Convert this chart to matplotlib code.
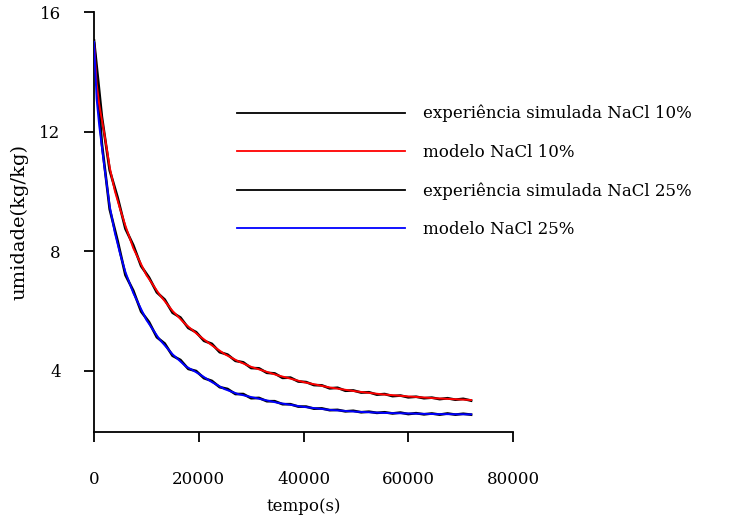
import matplotlib
matplotlib.use("Agg")
import matplotlib.pyplot as plt

plt.rcParams['font.family'] = ['DejaVu Serif']

# time grids (s)
t_model = [0, 500, 1000, 2000, 3000, 4000, 5000, 6000, 7500, 10000, 12500, 15000,
           17500, 20000, 22500, 25000, 27500, 30000, 35000, 40000, 45000, 50000,
           55000, 60000, 65000, 72000]
model10 = [15.0, 13.6, 12.9, 11.9, 10.8, 10.0, 9.4, 8.85, 8.1, 7.2, 6.55, 6.0,
           5.55, 5.18, 4.85, 4.55, 4.32, 4.13, 3.85, 3.62, 3.44, 3.31,
           3.21, 3.14, 3.08, 3.02]
model25 = [15.0, 13.1, 12.2, 10.8, 9.5, 8.6, 7.9, 7.3, 6.6, 5.7, 5.05, 4.55,
           4.15, 3.9, 3.62, 3.38, 3.22, 3.12, 2.93, 2.79, 2.69, 2.63,
           2.59, 2.57, 2.55, 2.54]

t_exp = list(range(0, 72001, 1500))
exp10 = [15.05, 12.5, 10.7, 9.8, 8.75, 8.2, 7.5, 7.12, 6.62, 6.38,
         5.94, 5.78, 5.43, 5.29, 5.0, 4.90, 4.62, 4.54, 4.33, 4.28,
         4.09, 4.08, 3.93, 3.91, 3.76, 3.77, 3.64, 3.62, 3.52, 3.51,
         3.41, 3.43, 3.33, 3.34, 3.27, 3.28, 3.20, 3.22, 3.15, 3.17,
         3.11, 3.13, 3.08, 3.10, 3.05, 3.08, 3.03, 3.06, 3.00]
exp25 = [14.95, 11.6, 9.4, 8.35, 7.2, 6.68, 5.98, 5.63, 5.12, 4.91,
         4.50, 4.36, 4.06, 3.99, 3.75, 3.66, 3.45, 3.39, 3.22, 3.22,
         3.08, 3.09, 2.98, 2.98, 2.88, 2.88, 2.80, 2.80, 2.73, 2.74,
         2.68, 2.69, 2.64, 2.66, 2.61, 2.63, 2.59, 2.61, 2.57, 2.60,
         2.55, 2.58, 2.54, 2.57, 2.53, 2.57, 2.53, 2.56, 2.53]

labels = ["experiência simulada NaCl 10%", "modelo NaCl 10%",
          "experiência simulada NaCl 25%", "modelo NaCl 25%"]
xticks = [0, 20000, 40000, 60000, 80000]
yticks = [4, 8, 12, 16]

W, H = 741, 515
fig = plt.figure(figsize=(W / 100, H / 100), dpi=100)
ax = fig.add_axes([94 / W, 1 - 432 / H, (513 - 94) / W, (432 - 12) / H])

l1, = ax.plot(t_exp, exp10, color='black', lw=1.9, zorder=2)
l2, = ax.plot(t_model, model10, color='red', lw=1.4, zorder=3)
l3, = ax.plot(t_exp, exp25, color='black', lw=1.9, zorder=2)
l4, = ax.plot(t_model, model25, color='blue', lw=1.4, zorder=3)

ax.set_xlim(0, 80000)
ax.set_ylim(1.95, 16)
ax.set_xticks(xticks)
ax.set_xticklabels([str(v) for v in xticks])
ax.set_yticks(yticks)
ax.set_yticklabels([str(v) for v in yticks])

for s in ['top', 'right']:
    ax.spines[s].set_visible(False)
for s in ['left', 'bottom']:
    ax.spines[s].set_linewidth(1.3)
ax.tick_params(axis='both', direction='out', length=7, width=1.3, labelsize=12)
ax.tick_params(axis='x', pad=21)
ax.tick_params(axis='y', pad=17)

ax.set_xlabel("tempo(s)", fontsize=12, labelpad=7)
ax.set_ylabel("umidade(kg/kg)", fontsize=14, labelpad=8)

leg = fig.legend([l1, l2, l3, l4], labels, loc='upper left',
                 bbox_to_anchor=(237 / W, 1 - 105 / H), frameon=False,
                 fontsize=12, handlelength=10.1, handletextpad=1.08,
                 labelspacing=1.28, borderpad=0, borderaxespad=0)
for h in leg.legend_handles:
    h.set_linewidth(1.3)

fig.savefig("out.png", dpi=100)
